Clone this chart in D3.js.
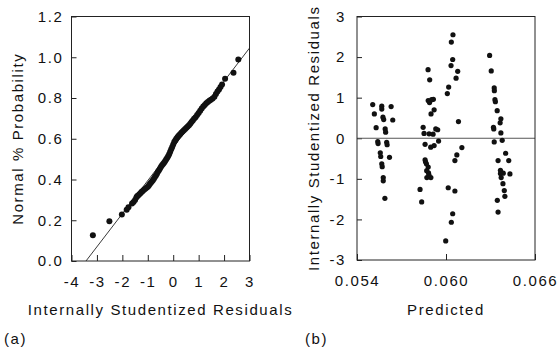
<!DOCTYPE html>
<html>
<head>
<meta charset="utf-8">
<title>Residual plots</title>
<script src="https://cdnjs.cloudflare.com/ajax/libs/d3/7.8.5/d3.min.js"></script>
<style>
body { margin: 0; background: #fff; }
svg text { font-family: "Liberation Sans", Arial, sans-serif; font-size: 15px; letter-spacing: 1.6px; fill: #111; }
.frame { fill: none; stroke: #222; stroke-width: 1; }
.tick line { stroke: #222; }
.domain { display: none; }
</style>
</head>
<body>
<div id="chart"></div>
<script>
// (a) normal probability plot
var probResid = [-3.16, -2.51, -2.02, -1.83, -1.76, -1.62, -1.56,
  -1.50, -1.45, -1.42, -1.38, -1.33, -1.28, -1.24, -1.20, -1.15, -1.10, -1.05, -1.00,
  -0.96, -0.92, -0.88, -0.84, -0.80, -0.76, -0.72, -0.68, -0.64, -0.60, -0.56, -0.52,
  -0.48, -0.44, -0.40, -0.36, -0.32, -0.28, -0.24, -0.20, -0.16, -0.12, -0.08, -0.04,
  0.00, 0.04, 0.08, 0.12, 0.17, 0.22, 0.27, 0.32, 0.37, 0.42, 0.47, 0.52, 0.57, 0.62,
  0.67, 0.72, 0.77, 0.82, 0.88, 0.94, 1.00, 1.06, 1.12, 1.18, 1.24, 1.30, 1.36, 1.42,
  1.48, 1.55, 1.62, 1.68, 1.74, 1.80, 1.86, 1.92, 2.04, 2.37, 2.56];
var probValue = [0.126, 0.195, 0.228, 0.252, 0.264, 0.282, 0.290,
  0.300, 0.312, 0.318, 0.322, 0.328, 0.334, 0.340, 0.344, 0.350, 0.355, 0.360, 0.364,
  0.370, 0.378, 0.384, 0.390, 0.396, 0.404, 0.412, 0.420, 0.428, 0.438, 0.446, 0.454,
  0.462, 0.470, 0.476, 0.482, 0.490, 0.498, 0.506, 0.514, 0.524, 0.536, 0.548, 0.560,
  0.572, 0.584, 0.592, 0.600, 0.608, 0.616, 0.622, 0.630, 0.636, 0.642, 0.648, 0.654, 0.660, 0.666,
  0.674, 0.682, 0.690, 0.698, 0.706, 0.716, 0.726, 0.738, 0.748, 0.758, 0.766, 0.774, 0.780, 0.786,
  0.792, 0.798, 0.806, 0.820, 0.832, 0.842, 0.854, 0.866, 0.894, 0.924, 0.989];
var fitX = [-3.43, 3.0];
var fitY = [0.0, 1.045];

// (b) residuals vs predicted
var predicted = [
  0.05506, 0.05517, 0.05529, 0.05540, 0.05542, 0.05567, 0.05567, 0.05575, 0.05580, 0.05590,
  0.05593, 0.05600, 0.05603, 0.05630, 0.05641, 0.05619, 0.05557, 0.05560, 0.05567, 0.05570,
  0.05577, 0.05577, 0.05588,
  0.05879, 0.05890, 0.05880, 0.05889, 0.05915, 0.05903, 0.05920, 0.05899, 0.05846, 0.05852,
  0.05886, 0.05913, 0.05931, 0.05944, 0.05859, 0.05897, 0.05920, 0.05950, 0.05859, 0.05868,
  0.05880, 0.05870, 0.05882, 0.05871, 0.05898, 0.05825, 0.05836, 0.05862, 0.05885,
  0.06047, 0.06036, 0.06045, 0.06034, 0.06079, 0.06068, 0.06018, 0.06009, 0.06084, 0.06107,
  0.06073, 0.06060, 0.06015, 0.06060, 0.06045, 0.06036, 0.05998,
  0.06294, 0.06305, 0.06325, 0.06326, 0.06330, 0.06333, 0.06345, 0.06370, 0.06365, 0.06370,
  0.06320, 0.06322, 0.06379, 0.06325, 0.06402, 0.06351, 0.06423, 0.06367, 0.06386, 0.06431,
  0.06367, 0.06384, 0.06393, 0.06397, 0.06346, 0.06351, 0.06372];
var residual = [
  0.83, 0.60, 0.26, -0.08, -0.13, 0.79, 0.72, 0.52, 0.46, 0.23,
  0.15, -0.10, -0.16, 0.78, 0.45, -0.47, -0.36, -0.45, -0.63, -0.70,
  -0.97, -1.05, -1.48,
  1.69, 1.44, 0.93, 0.88, 0.96, 0.95, 0.70, 0.60, 0.27, 0.12,
  0.11, 0.10, 0.23, 0.21, -0.15, -0.22, -0.18, -0.07, -0.53, -0.63,
  -0.71, -0.80, -0.85, -0.97, -0.97, -1.26, -1.57, -0.58, -0.90,
  2.55, 2.37, 1.94, 1.79, 1.65, 1.48, 1.26, 1.10, 0.41, -0.23,
  -0.41, -0.55, -1.22, -1.30, -1.86, -2.07, -2.53,
  2.04, 1.66, 1.24, 1.17, 0.95, 0.90, 0.68, 0.48, 0.38, 0.13,
  0.27, 0.23, -0.05, -0.09, -0.37, -0.55, -0.55, -0.79, -0.86, -0.88,
  -0.87, -1.12, -1.29, -1.43, -1.53, -1.82, -0.97];

var xTicksA = [-4, -3, -2, -1, 0, 1, 2, 3];
var yTicksA = [0, 0.2, 0.4, 0.6, 0.8, 1.0, 1.2];
var xTicksB = [0.054, 0.060, 0.066];
var yTicksB = [-3, -2, -1, 0, 1, 2, 3];

var svg = d3.select("#chart").append("svg")
  .attr("width", 558).attr("height", 355);

// ---------- panel (a)
var xa = d3.scaleLinear().domain([-4, 3]).range([71.5, 249.5]);
var ya = d3.scaleLinear().domain([0, 1.2]).range([261, 16.5]);

var ga = svg.append("g");
ga.append("clipPath").attr("id", "clipA").append("rect")
  .attr("x", xa(-4)).attr("y", ya(1.2))
  .attr("width", xa(3) - xa(-4)).attr("height", ya(0) - ya(1.2));

ga.append("g")
  .attr("transform", "translate(0," + ya(0) + ")")
  .call(d3.axisBottom(xa).tickValues(xTicksA).tickSize(-6).tickPadding(15)
    .tickFormat(d => String(d)));
ga.append("g")
  .attr("transform", "translate(" + xa(-4) + ",0)")
  .call(d3.axisLeft(ya).tickValues(yTicksA).tickSize(-5).tickPadding(8)
    .tickFormat(d3.format(".1f")));

ga.append("line")
  .attr("clip-path", "url(#clipA)")
  .attr("x1", xa(fitX[0])).attr("y1", ya(fitY[0]))
  .attr("x2", xa(fitX[1])).attr("y2", ya(fitY[1]))
  .attr("stroke", "#222").attr("stroke-width", 0.9);

ga.selectAll(".dotA")
  .data(probResid.map((r, i) => [r, probValue[i]]))
  .enter().append("circle")
  .attr("class", "dotA")
  .attr("cx", d => xa(d[0]))
  .attr("cy", d => ya(d[1]))
  .attr("r", 3)
  .attr("fill", "#111");

ga.append("rect").attr("class", "frame")
  .attr("x", xa(-4)).attr("y", ya(1.2))
  .attr("width", xa(3) - xa(-4)).attr("height", ya(0) - ya(1.2));

ga.append("text")
  .attr("x", (xa(-4) + xa(3)) / 2).attr("y", 315)
  .attr("text-anchor", "middle")
  .text("Internally Studentized Residuals");
ga.append("text")
  .attr("transform", "translate(23," + (ya(0) + ya(1.2)) / 2 + ") rotate(-90)")
  .attr("text-anchor", "middle")
  .text("Normal % Probability");
ga.append("text").attr("x", 4).attr("y", 344).text("(a)");

// ---------- panel (b)
var xb = d3.scaleLinear().domain([0.054, 0.066]).range([357, 535]);
var yb = d3.scaleLinear().domain([-3, 3]).range([260, 16.5]);

var gb = svg.append("g");
gb.append("g")
  .attr("transform", "translate(0," + yb(-3) + ")")
  .call(d3.axisBottom(xb).tickValues(xTicksB).tickSize(-6).tickPadding(15)
    .tickFormat(d3.format(".3f")));
gb.append("g")
  .attr("transform", "translate(" + xb(0.054) + ",0)")
  .call(d3.axisLeft(yb).tickValues(yTicksB).tickSize(-5).tickPadding(11)
    .tickFormat(d => String(d)));

gb.append("line")
  .attr("x1", xb(0.054)).attr("x2", xb(0.066))
  .attr("y1", yb(0)).attr("y2", yb(0))
  .attr("stroke", "#555").attr("stroke-width", 1);

gb.selectAll(".dotB")
  .data(predicted.map((p, i) => [p, residual[i]]))
  .enter().append("circle")
  .attr("class", "dotB")
  .attr("cx", d => xb(d[0]))
  .attr("cy", d => yb(d[1]))
  .attr("r", 2.6)
  .attr("fill", "#111");

gb.append("rect").attr("class", "frame")
  .attr("x", xb(0.054)).attr("y", yb(3))
  .attr("width", xb(0.066) - xb(0.054)).attr("height", yb(-3) - yb(3));

gb.append("text")
  .attr("x", (xb(0.054) + xb(0.066)) / 2).attr("y", 315)
  .attr("text-anchor", "middle")
  .text("Predicted");
gb.append("text")
  .attr("transform", "translate(319," + (yb(-3) + yb(3)) / 2 + ") rotate(-90)")
  .attr("text-anchor", "middle")
  .text("Internally Studentized Residuals");
gb.append("text").attr("x", 305).attr("y", 344).text("(b)");
</script>
</body>
</html>
